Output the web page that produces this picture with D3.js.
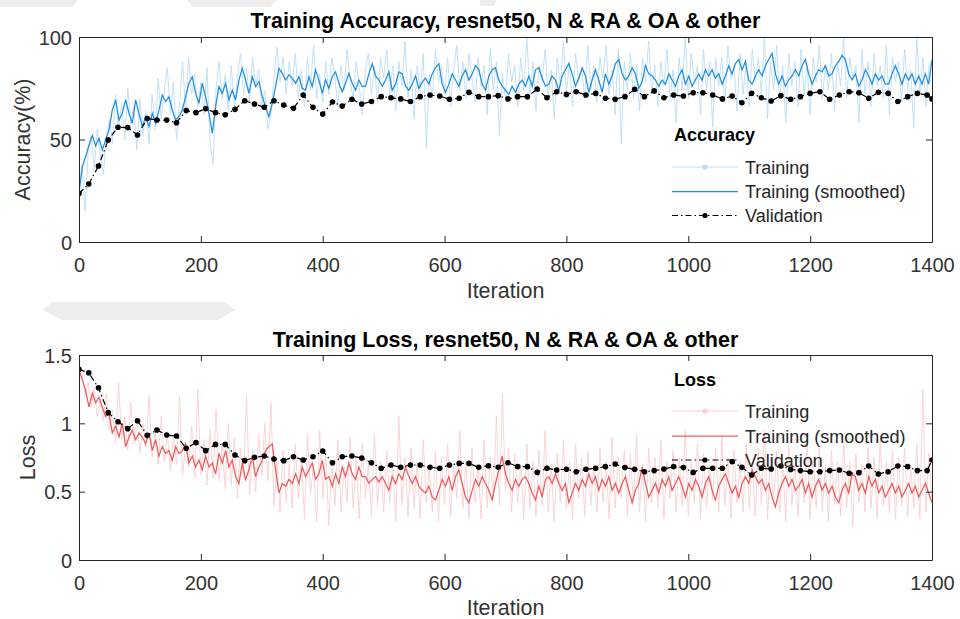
<!DOCTYPE html>
<html>
<head>
<meta charset="utf-8">
<script src="https://cdn.jsdelivr.net/npm/d3@7"></script>
<style>
  html, body { margin: 0; padding: 0; background: #ffffff; }
  svg { display: block; font-family: "Liberation Sans", Arial, Helvetica, sans-serif; }
</style>
</head>
<body>
<svg id="chart" width="960" height="619"></svg>
<script>
// ---- data -------------------------------------------------------------
const ITER_MAX = 1400;
const xTicks = [0, 200, 400, 600, 800, 1000, 1200, 1400];
const accTicks = [0, 50, 100];
const lossTicks = [0, 0.5, 1, 1.5];

// validation is run every 16 iterations, plus once at the end
const validationIterations = d3.range(0, ITER_MAX, 16).concat(ITER_MAX);

// raw training accuracy, one value every 5 iterations
const accTrainRaw = [
  25, 38, 15, 44, 52, 36, 55, 42, 33, 52,
  60, 48, 72, 55, 68, 50, 75, 58, 66, 45,
  70, 52, 64, 48, 72, 55, 80, 60, 74, 85,
  62, 78, 50, 68, 88, 64, 90, 72, 82, 66,
  78, 62, 85, 48, 38, 75, 88, 70, 82, 64,
  86, 66, 80, 92, 72, 85, 68, 90, 76, 84,
  66, 74, 55, 62, 80, 95, 78, 90, 72, 88,
  76, 92, 70, 84, 66, 90, 74, 96, 70, 82,
  68, 88, 72, 90, 80, 66, 86, 74, 94, 78,
  70, 88, 76, 62, 84, 92, 72, 86, 68, 90,
  80, 94, 72, 86, 64, 88, 76, 98, 70, 84,
  60, 86, 74, 92, 46, 82, 70, 94, 78, 86,
  72, 90, 66, 84, 96, 74, 88, 70, 92, 80,
  68, 90, 76, 86, 62, 94, 74, 88, 52, 82,
  70, 92, 78, 86, 66, 90, 74, 100, 72, 88,
  64, 86, 78, 94, 70, 84, 60, 90, 76, 98,
  72, 88, 66, 92, 78, 84, 70, 96, 74, 86,
  68, 90, 80, 96, 72, 84, 62, 94, 48, 88,
  74, 92, 70, 86, 64, 90, 78, 98, 72, 86,
  66, 88, 76, 94, 70, 84, 58, 90, 74, 100,
  70, 92, 78, 86, 62, 94, 74, 88, 56, 90,
  76, 90, 68, 96, 80, 86, 64, 92, 72, 88,
  66, 94, 78, 90, 72, 100, 60, 88, 74, 96,
  70, 86, 58, 92, 76, 88, 66, 94, 72, 86,
  62, 90, 78, 96, 70, 86, 74, 92, 64, 88,
  76, 100, 70, 90, 80, 86, 58, 94, 72, 88,
  66, 92, 76, 86, 70, 96, 62, 90, 78, 88,
  68, 94, 74, 84, 56, 100, 72, 90, 66, 86,
  88
];

// smoothed training accuracy, evenly spaced over 0..1400
const accTrainSmoothed = [
  24, 36.7, 41.6, 47.3, 52, 47, 50.6, 44.9, 49.8, 54.6,
  64.4, 69.3, 59.5, 62.8, 69.3, 62.8, 57.9, 69.3, 62.8, 56.3,
  61.1, 56.3, 62.8, 57.9, 64.4, 71.7, 68.5, 70.9, 64.4, 59.5,
  61.1, 64.4, 70.9, 77.4, 80.6, 72.5, 67.6, 77.4, 70.9, 62.8,
  53, 66, 75.8, 72.5, 77.4, 69.3, 74.1, 69.3, 79, 84.7,
  79, 72.5, 80.6, 75.8, 78.2, 70.9, 66, 61.1, 67.6, 75.8,
  84.7, 82.3, 79, 81.5, 79.8, 77.4, 80.6, 75, 74.1, 80.6,
  75.8, 83.9, 79, 72.5, 79, 75, 80.6, 83, 77.4, 73.3,
  77.4, 82.3, 77.4, 74.1, 79, 75.8,
  76, 82, 87, 81, 79, 76, 79, 83, 74,
  77, 83, 82, 76, 74, 77, 81, 75, 78, 80,
  77, 82, 85, 87, 77, 73, 77, 82, 79, 76,
  81, 84, 79, 82, 86, 84, 77, 74, 81, 84,
  85, 79, 76, 74, 72, 76, 73, 77, 79, 76,
  81, 76, 84, 85, 80, 76, 77, 81, 79, 74,
  81, 84, 87, 82, 76, 80, 85, 81, 73, 79,
  84, 79, 73, 82, 77, 81, 87, 89, 82, 79,
  81, 85, 82, 75, 78, 86, 82,
  81, 79, 76, 79, 77, 82, 79, 76, 81, 84,
  77, 81, 76, 79, 82, 79, 84, 81, 84, 80,
  82, 77, 81, 86, 82, 87, 89, 84, 88, 79,
  77, 81, 84, 81, 86, 89, 92, 82, 77, 81,
  76, 79, 81, 84, 81, 86, 89, 82, 77, 81,
  84, 83, 86, 81, 82, 86, 88, 91, 89, 82,
  79, 82, 76, 79, 84, 81, 77, 82, 79, 81,
  77, 77, 82, 86, 82, 77, 82, 79, 82, 77,
  81, 77, 82, 77, 89
];

const accValidation = [
  23.7, 28.3, 37.1, 49.8, 56.0, 55.8, 52.2, 60.2, 59.5, 59.5,
  58.2, 64.1, 63.1, 65.0, 63.1, 62.1, 64.7, 68.9, 67.3, 65.7,
  68.9, 66.8, 65.2, 71.7, 65.7, 62.4, 68.3, 66.3, 69.6, 67.3,
  68.5, 70.9, 70.4, 69.8, 68.5, 70.9, 71.7, 71.2, 69.6, 70.1,
  73.0, 70.9, 70.9, 71.4, 69.8, 70.9, 70.9, 74.6, 70.4, 73.3,
  72.0, 73.3, 71.7, 72.5, 70.1, 69.6, 70.9, 74.5, 70.9, 73.7,
  70.4, 71.7, 71.2, 72.8, 72.8, 71.7, 69.8, 71.2, 67.9, 72.5,
  70.4, 68.8, 71.4, 69.6, 70.9, 72.5, 73.3, 69.6, 71.7, 73.3,
  72.8, 70.1, 73.0, 72.5, 68.5, 70.9, 72.5, 71.7, 69.8
];

// raw training loss, one value every 5 iterations
const lossTrainRaw = [
  1.42, 1.35, 1.20, 1.30, 1.12, 1.25, 1.05, 1.18, 1.02, 1.22,
  0.95, 1.10, 0.85, 1.30, 0.88, 1.05, 0.80, 1.15, 0.85, 1.02,
  0.78, 1.00, 0.82, 1.20, 0.75, 0.95, 0.70, 1.05, 0.72, 0.92,
  0.65, 0.90, 0.70, 1.20, 0.62, 0.85, 0.68, 0.98, 0.60, 1.25,
  0.62, 0.88, 0.55, 0.95, 0.60, 1.10, 0.58, 0.85, 0.52, 1.00,
  0.55, 0.90, 0.45, 0.82, 0.60, 1.20, 0.48, 0.80, 0.50, 0.92,
  0.62, 1.00, 0.58, 1.15, 0.40, 0.72, 0.35, 0.80, 0.42, 0.70,
  0.38, 0.85, 0.45, 0.75, 0.30, 0.92, 0.48, 0.70, 0.28, 0.95,
  0.45, 0.78, 0.25, 0.72, 0.40, 0.88, 0.35, 0.68, 0.42, 0.90,
  0.38, 0.75, 0.30, 0.85, 0.45, 0.70, 0.32, 0.92, 0.40, 0.72,
  0.35, 0.80, 0.42, 0.70, 0.28, 1.05, 0.40, 0.75, 0.32, 0.82,
  0.38, 0.72, 0.30, 0.88, 0.42, 0.68, 0.35, 0.80, 0.28, 0.75,
  0.40, 0.85, 0.32, 0.70, 0.45, 0.95, 0.38, 0.72, 0.30, 0.82,
  0.42, 0.70, 0.30, 0.88, 0.38, 0.75, 0.45, 1.05, 0.40, 1.22,
  0.50, 0.82, 0.35, 0.78, 0.42, 0.70, 0.30, 0.85, 0.38, 0.72,
  0.32, 0.80, 0.40, 0.95, 0.35, 0.70, 0.28, 0.78, 0.42, 0.88,
  0.38, 0.72, 0.30, 0.85, 0.45, 0.75, 0.32, 0.80, 0.40, 0.70,
  0.35, 0.82, 0.42, 0.72, 0.30, 0.90, 0.38, 0.75, 0.45, 0.80,
  0.32, 0.78, 0.40, 0.92, 0.35, 0.70, 0.28, 0.82, 0.42, 0.75,
  0.38, 0.88, 0.30, 0.72, 0.45, 0.80, 0.35, 0.75, 0.40, 0.95,
  0.32, 0.72, 0.42, 0.85, 0.30, 0.78, 0.38, 0.70, 0.45, 0.82,
  0.35, 0.90, 0.40, 0.75, 0.30, 0.80, 0.42, 0.72, 0.35, 0.85,
  0.38, 0.70, 0.32, 0.82, 0.40, 0.95, 0.30, 0.75, 0.42, 0.80,
  0.35, 0.72, 0.28, 0.85, 0.40, 0.70, 0.32, 0.78, 0.42, 0.88,
  0.30, 0.75, 0.38, 0.82, 0.35, 0.70, 0.28, 0.80, 0.40, 0.72,
  0.32, 0.85, 0.38, 0.72, 0.25, 0.78, 0.42, 0.70, 0.35, 0.82,
  0.38, 0.75, 0.30, 0.88, 0.40, 0.72, 0.35, 0.80, 0.30, 0.75,
  0.40, 0.82, 0.32, 0.70, 0.38, 0.85, 0.30, 1.25, 0.35, 0.78,
  0.45
];

// smoothed training loss, evenly spaced over 0..1400
const lossTrainSmoothed = [
  1.39, 1.32, 1.24, 1.12, 1.22, 1.15, 1.19, 1.12, 1.05, 1.07,
  0.93, 0.98, 0.90, 1.00, 0.83, 0.90, 0.95, 0.88, 0.93, 0.90,
  0.85, 0.93, 0.80, 0.88, 0.76, 0.83, 0.78, 0.80, 0.73, 0.83,
  0.78, 0.80, 0.85, 0.71, 0.76, 0.68, 0.73, 0.66, 0.76, 0.68,
  0.71, 0.63, 0.78, 0.71, 0.80, 0.68, 0.73, 0.61, 0.56, 0.71,
  0.59, 0.66, 0.76, 0.61, 0.68, 0.73, 0.80, 0.83, 0.85, 0.66,
  0.49, 0.56, 0.54, 0.59, 0.56, 0.63, 0.56, 0.68, 0.61, 0.66,
  0.71, 0.59, 0.63, 0.73, 0.59, 0.61, 0.54, 0.63, 0.56, 0.68,
  0.61, 0.71, 0.63, 0.59, 0.68, 0.61,
  0.61, 0.56, 0.59, 0.61, 0.57, 0.61, 0.56, 0.51, 0.61,
  0.56, 0.63, 0.59, 0.68, 0.61, 0.56, 0.61, 0.54, 0.51, 0.49,
  0.54, 0.46, 0.44, 0.51, 0.59, 0.54, 0.61, 0.51, 0.61, 0.66,
  0.56, 0.46, 0.42, 0.51, 0.59, 0.54, 0.61, 0.56, 0.51, 0.44,
  0.56, 0.66, 0.76, 0.63, 0.56, 0.51, 0.59, 0.54, 0.59, 0.61,
  0.56, 0.49, 0.44, 0.54, 0.46, 0.59, 0.61, 0.56, 0.63, 0.56,
  0.51, 0.56, 0.42, 0.49, 0.56, 0.51, 0.59, 0.54, 0.63, 0.56,
  0.61, 0.51, 0.59, 0.54, 0.61, 0.51, 0.56, 0.49, 0.56, 0.61,
  0.51, 0.42, 0.51, 0.56, 0.68, 0.56, 0.46,
  0.51, 0.56, 0.49, 0.59, 0.54, 0.61, 0.51, 0.56, 0.61, 0.54,
  0.46, 0.56, 0.51, 0.59, 0.54, 0.46, 0.56, 0.61, 0.51, 0.44,
  0.54, 0.59, 0.63, 0.56, 0.49, 0.54, 0.46, 0.56, 0.61, 0.56,
  0.66, 0.61, 0.56, 0.59, 0.51, 0.56, 0.46, 0.39, 0.49, 0.56,
  0.61, 0.54, 0.59, 0.51, 0.54, 0.59, 0.49, 0.56, 0.46, 0.54,
  0.59, 0.51, 0.56, 0.49, 0.54, 0.46, 0.42, 0.51, 0.56, 0.49,
  0.63, 0.61, 0.51, 0.56, 0.49, 0.61, 0.54, 0.59, 0.49, 0.54,
  0.46, 0.51, 0.56, 0.49, 0.54, 0.46, 0.51, 0.56, 0.49, 0.54,
  0.46, 0.51, 0.56, 0.49, 0.42
];

const lossValidation = [
  1.395, 1.370, 1.260, 1.078, 1.012, 0.961, 1.019, 0.912, 0.951, 0.914,
  0.907, 0.817, 0.859, 0.800, 0.846, 0.846, 0.768, 0.727, 0.751, 0.761,
  0.739, 0.727, 0.756, 0.732, 0.756, 0.798, 0.712, 0.756, 0.761, 0.746,
  0.712, 0.671, 0.695, 0.678, 0.695, 0.695, 0.678, 0.671, 0.695, 0.707,
  0.707, 0.678, 0.690, 0.678, 0.712, 0.683, 0.683, 0.641, 0.671, 0.659,
  0.664, 0.646, 0.664, 0.671, 0.683, 0.702, 0.676, 0.664, 0.646, 0.654,
  0.666, 0.683, 0.676, 0.641, 0.671, 0.671, 0.671, 0.720, 0.678, 0.622,
  0.671, 0.666, 0.688, 0.663, 0.654, 0.646, 0.646, 0.654, 0.659, 0.634,
  0.639, 0.688, 0.629, 0.646, 0.688, 0.683, 0.654, 0.654, 0.732
];

// ---- drawing ----------------------------------------------------------
const svg = d3.select("#chart");
const INK = "#262626";
const PLOT_LEFT = 79, PLOT_RIGHT = 932;

// faint background shapes
const bgShapes = [
  [[0, 0], [78, 0], [72, 7], [0, 7]],
  [[187, 0], [277, 0], [270, 7], [193, 7]],
  [[480, 0], [497, 0], [494, 6], [480, 6]],
  [[52, 302], [225, 302], [235, 310], [218, 320], [62, 320], [43, 310]]
];
svg.append("g").selectAll("polygon").data(bgShapes).join("polygon")
  .attr("points", d => d.map(p => p.join(",")).join(" "))
  .attr("fill", "#ededed");

// evenly spaced iteration grid for a series
const gridOf = arr => arr.map((_, i) => i * ITER_MAX / (arr.length - 1));

const x = d3.scaleLinear().domain([0, ITER_MAX]).range([PLOT_LEFT, PLOT_RIGHT]);

const panels = [
  {
    title: "Training Accuracy, resnet50, N & RA & OA & other",
    yLabel: "Accuracy(%)", legendTitle: "Accuracy",
    domain: [0, 100], ticks: accTicks, fmt: d => String(d),
    raw: accTrainRaw, smooth: accTrainSmoothed, val: accValidation,
    rawColor: "#bcdcf5", smoothColor: "#1f8ee0",
    top: 37, bottom: 242, titleY: 28, xLabelY: 272, xTitleY: 298, yLabelX: 30,
    legend: { x: 672, titleY: 141, rows: [167, 191.5, 215.5] }
  },
  {
    title: "Training Loss, resnet50, N & RA & OA & other",
    yLabel: "Loss", legendTitle: "Loss",
    domain: [0, 1.5], ticks: lossTicks, fmt: d => String(d),
    raw: lossTrainRaw, smooth: lossTrainSmoothed, val: lossValidation,
    rawColor: "#f9cfcf", smoothColor: "#ec5b5d",
    top: 355, bottom: 560, titleY: 347, xLabelY: 590, xTitleY: 615, yLabelX: 35,
    legend: { x: 672, titleY: 386, rows: [411, 436, 460] }
  }
];

panels.forEach((p, k) => {
  const y = d3.scaleLinear().domain(p.domain).range([p.bottom, p.top]);
  const g = svg.append("g");

  const clipId = "plot-clip-" + k;
  svg.append("clipPath").attr("id", clipId)
    .append("rect")
    .attr("x", PLOT_LEFT).attr("y", p.top)
    .attr("width", PLOT_RIGHT - PLOT_LEFT).attr("height", p.bottom - p.top);

  const plot = g.append("g").attr("clip-path", `url(#${clipId})`);
  const line = d3.line().x(d => x(d[0])).y(d => y(d[1]));

  plot.append("path")
    .datum(d3.zip(gridOf(p.raw), p.raw))
    .attr("d", line).attr("fill", "none")
    .attr("stroke", p.rawColor).attr("stroke-width", 0.9);

  plot.append("path")
    .datum(d3.zip(gridOf(p.smooth), p.smooth))
    .attr("d", line).attr("fill", "none")
    .attr("stroke", p.smoothColor).attr("stroke-width", 1.25);

  const valPts = d3.zip(validationIterations, p.val);
  plot.append("path")
    .datum(valPts)
    .attr("d", line).attr("fill", "none")
    .attr("stroke", "#000").attr("stroke-width", 1.2)
    .attr("stroke-dasharray", "6,3,1.5,3");
  plot.append("g").selectAll("circle").data(valPts).join("circle")
    .attr("cx", d => x(d[0])).attr("cy", d => y(d[1]))
    .attr("r", 2.8).attr("fill", "#000");

  // axes: ticks point inward on all four sides
  const axB = g.append("g").attr("transform", `translate(0,${p.bottom})`)
    .call(d3.axisBottom(x).tickValues(xTicks).tickSize(-6).tickSizeOuter(0).tickFormat(d => String(d)));
  axB.selectAll("text").attr("y", p.xLabelY - p.bottom).attr("dy", null);
  const axT = g.append("g").attr("transform", `translate(0,${p.top})`)
    .call(d3.axisTop(x).tickValues(xTicks).tickSize(-6).tickSizeOuter(0).tickFormat(""));
  const axL = g.append("g").attr("transform", `translate(${PLOT_LEFT},0)`)
    .call(d3.axisLeft(y).tickValues(p.ticks).tickSize(-6).tickSizeOuter(0).tickPadding(7).tickFormat(p.fmt));
  axL.selectAll("text").attr("dy", "0.36em");
  const axR = g.append("g").attr("transform", `translate(${PLOT_RIGHT},0)`)
    .call(d3.axisRight(y).tickValues(p.ticks).tickSize(-6).tickSizeOuter(0).tickFormat(""));

  [axB, axT, axL, axR].forEach(a => {
    a.attr("font-family", null).attr("font-size", 20);
    a.selectAll("path, line").attr("stroke", INK).attr("stroke-width", 1);
    a.selectAll("text").attr("fill", "#333");
  });

  // titles and labels
  g.append("text")
    .attr("x", (PLOT_LEFT + PLOT_RIGHT) / 2).attr("y", p.titleY)
    .attr("text-anchor", "middle").attr("font-size", 21.5).attr("font-weight", "bold")
    .attr("fill", "#000").text(p.title);
  g.append("text")
    .attr("x", (PLOT_LEFT + PLOT_RIGHT) / 2).attr("y", p.xTitleY)
    .attr("text-anchor", "middle").attr("font-size", 21.5).attr("fill", "#333")
    .text("Iteration");
  g.append("text")
    .attr("transform", `translate(${p.yLabelX},${(p.top + p.bottom) / 2}) rotate(-90)`)
    .attr("text-anchor", "middle").attr("font-size", 21.5).attr("fill", "#333")
    .text(p.yLabel);

  // legend
  const L = p.legend;
  const lg = g.append("g");
  lg.append("text").attr("x", L.x + 2).attr("y", L.titleY)
    .attr("font-size", 18).attr("font-weight", "bold").attr("fill", "#000")
    .text(p.legendTitle);
  const sw0 = L.x, sw1 = L.x + 66, swMid = (sw0 + sw1) / 2, tx = L.x + 73;
  const entries = [
    { label: "Training", stroke: p.rawColor, dash: null, dot: p.rawColor, w: 1 },
    { label: "Training (smoothed)", stroke: p.smoothColor, dash: null, dot: null, w: 1.25 },
    { label: "Validation", stroke: "#000", dash: "6,3,1.5,3", dot: "#000", w: 1.2 }
  ];
  entries.forEach((e, i) => {
    const yy = L.rows[i];
    lg.append("line").attr("x1", sw0).attr("x2", sw1).attr("y1", yy).attr("y2", yy)
      .attr("stroke", e.stroke).attr("stroke-width", e.w)
      .attr("stroke-dasharray", e.dash);
    if (e.dot) {
      lg.append("circle").attr("cx", swMid).attr("cy", yy).attr("r", 2.6).attr("fill", e.dot);
    }
    lg.append("text").attr("x", tx).attr("y", yy + 6.5)
      .attr("font-size", 18).attr("fill", "#262626").text(e.label);
  });
});
</script>
</body>
</html>
